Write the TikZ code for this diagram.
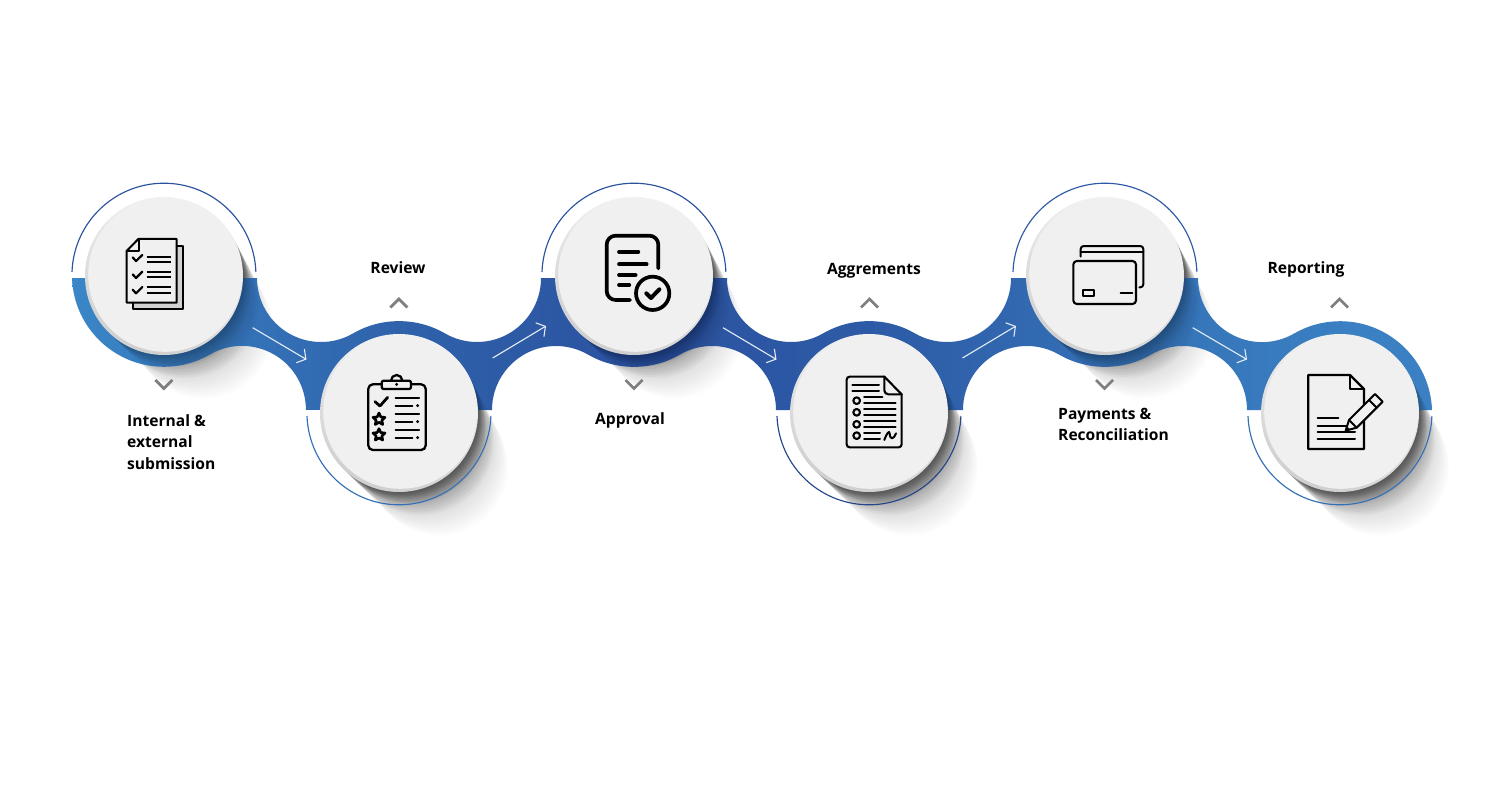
\documentclass[tikz,border=0pt]{standalone}
\usepackage{fontspec}
\setmainfont{Open Sans}
\usetikzlibrary{arrows.meta,calc}
\definecolor{ribA}{HTML}{3A86C6}
\definecolor{ribB}{HTML}{2F62AB}
\definecolor{ribC}{HTML}{2B52A0}
\definecolor{ribD}{HTML}{2D5AA6}
\definecolor{ribE}{HTML}{3470B5}
\definecolor{ribF}{HTML}{3A80C2}
\definecolor{discface}{HTML}{F0F0F0}
\definecolor{rimtop}{HTML}{F4F4F4}
\definecolor{rimlow}{HTML}{CFCFCF}
\definecolor{chevgrey}{HTML}{7F7F7F}
\definecolor{arrowwhite}{HTML}{E6ECF6}
\pgfdeclarehorizontalshading{ribbonshade}{100bp}{color(0bp)=(ribA); color(25bp)=(ribA); color(37bp)=(ribB); color(45.7bp)=(ribC); color(54.3bp)=(ribD); color(63bp)=(ribE); color(72bp)=(ribF); color(100bp)=(ribF)}
\tikzset{
  ringline/.style={line width=1.15pt},
  disc/.style={circle,inner sep=0pt,minimum size=158pt,top color=rimtop,bottom color=rimlow,shading angle=-20},
  face/.style={circle,inner sep=0pt,minimum size=154pt,fill=discface},
  flowarrow/.style={draw=arrowwhite,line width=1.1pt,-{Straight Barb[length=6.5pt,width=16pt,line width=1.1pt]}},
  chev/.style={draw=chevgrey,line width=2.8pt},
  steplabel/.style={inner sep=0pt,font=\fontsize{15.6}{21.5}\selectfont\bfseries,text=black},
  ink/.style={draw=black,line width=#1,line cap=round,line join=round},
  ink/.default=2pt
}
% soft, fine-grained shadow for the white ground (drawn under the ribbon)
\newcommand{\groundshadow}[2]{%
  \foreach \k in {1,...,16}{
    \draw[black,opacity=0.016,line cap=round,line width={(2*(79-0.17*\k))*1pt}]
      (#1,#2) -- ({#1+\k*0.66},{#2+\k*0.88});
  }%
  \foreach \k in {17,...,32}{
    \draw[black,opacity=0.008,line cap=round,line width={(2*(79-0.17*\k))*1pt}]
      (#1,#2) -- ({#1+\k*0.66},{#2+\k*0.88});
  }%
  \foreach \k in {33,...,62}{
    \draw[black,opacity=0.004,line cap=round,line width={(2*(79-0.17*\k))*1pt}]
      (#1,#2) -- ({#1+\k*0.66},{#2+\k*0.88});
  }%
}
% coarser near shadow drawn over ribbon and ground
\newcommand{\nearshadow}[2]{%
  \foreach \k in {2,4,...,16}{
    \draw[black,opacity=0.032,line cap=round,line width={(2*(79-0.17*\k))*1pt}]
      (#1,#2) -- ({#1+\k*0.66},{#2+\k*0.88});
  }%
  \foreach \k in {20,24,28,32}{
    \draw[black,opacity=0.02,line cap=round,line width={(2*(79-0.17*\k))*1pt}]
      (#1,#2) -- ({#1+\k*0.66},{#2+\k*0.88});
  }%
}
\newcommand{\iconstar}[2]{%
  \draw[ink=2.6pt,fill=discface] plot[samples at={0,...,9}]
    ({#1+(mod(\x,2)==0?19:9)*cos(-90+36*\x)},{#2+(mod(\x,2)==0?19:9)*sin(-90+36*\x)}) -- cycle;
}
\begin{document}
\begin{tikzpicture}[x=1pt,y=-1pt]
\useasboundingbox (0,0) rectangle (1500,800);
\fill[white] (0,0) rectangle (1500,800);

% shadows on the white ground
\groundshadow{164}{276}
\groundshadow{399}{413}
\groundshadow{634}{276}
\groundshadow{869}{413}
\groundshadow{1105}{276}
\groundshadow{1340}{413}

% ribbon
\path[shading=ribbonshade,shading angle=0] (72,278)
  arc[start angle=178,end angle=60,radius=92]
  arc[start angle=240,end angle=360,radius=64]
  -- (492,410)
  arc[start angle=180,end angle=300,radius=64]
  arc[start angle=120,end angle=60,radius=92]
  arc[start angle=240,end angle=360,radius=64]
  -- (963,410)
  arc[start angle=180,end angle=300,radius=64]
  arc[start angle=120,end angle=60,radius=92]
  arc[start angle=240,end angle=360,radius=64]
  -- (1432,410)
  arc[start angle=358,end angle=240,radius=92]
  arc[start angle=60,end angle=180,radius=64]
  -- (1011,278)
  arc[start angle=0,end angle=120,radius=64]
  arc[start angle=300,end angle=240,radius=92]
  arc[start angle=60,end angle=180,radius=64]
  -- (541,278)
  arc[start angle=0,end angle=120,radius=64]
  arc[start angle=300,end angle=240,radius=92]
  arc[start angle=60,end angle=180,radius=64]
  -- cycle;

% shadows over ribbon and ground
\nearshadow{164}{276}
\nearshadow{399}{413}
\nearshadow{634}{276}
\nearshadow{869}{413}
\nearshadow{1105}{276}
\nearshadow{1340}{413}

% rings
\draw[ringline,draw=ribC] (72,272) arc[start angle=182,end angle=358,radius=92];
\draw[ringline,draw=ribE] (307,416) arc[start angle=178,end angle=2,radius=92];
\draw[ringline,draw=ribC] (542,272) arc[start angle=182,end angle=358,radius=92];
\draw[ringline,draw=ribC!85!black] (777,416) arc[start angle=178,end angle=2,radius=92];
\draw[ringline,draw=ribD] (1013,272) arc[start angle=182,end angle=358,radius=92];
\draw[ringline,draw=ribE] (1248,416) arc[start angle=178,end angle=2,radius=92];

% discs
\node[disc] (d1) at (164,276) {};
\node[face] (f1) at (165.2,274.8) {};
\node[disc] (d2) at (399,413) {};
\node[face] (f2) at (400.2,411.8) {};
\node[disc] (d3) at (634,276) {};
\node[face] (f3) at (635.2,274.8) {};
\node[disc] (d4) at (869,413) {};
\node[face] (f4) at (870.2,411.8) {};
\node[disc] (d5) at (1105,276) {};
\node[face] (f5) at (1106.2,274.8) {};
\node[disc] (d6) at (1340,413) {};
\node[face] (f6) at (1341.2,411.8) {};

% arrows
\coordinate (a1s) at (252.7,327.7); \coordinate (a1e) at (306.5,359.5);
\coordinate (a2s) at (492.7,358);   \coordinate (a2e) at (546,326);
\coordinate (a3s) at (723,327.7);   \coordinate (a3e) at (776.5,359.5);
\coordinate (a4s) at (962.5,358);   \coordinate (a4e) at (1016,326);
\coordinate (a5s) at (1192.7,327.7);\coordinate (a5e) at (1247,359.5);
\draw[flowarrow] (a1s) -- (a1e);
\draw[flowarrow] (a2s) -- (a2e);
\draw[flowarrow] (a3s) -- (a3e);
\draw[flowarrow] (a4s) -- (a4e);
\draw[flowarrow] (a5s) -- (a5e);

% chevrons
\draw[chev] (155.3,380) -- (163.8,388.5) -- (172.3,380);
\draw[chev] (390.3,307.5) -- (398.8,299) -- (407.3,307.5);
\draw[chev] (625.5,380) -- (634,388.5) -- (642.5,380);
\draw[chev] (861,307.5) -- (869.5,299) -- (878,307.5);
\draw[chev] (1096,380) -- (1104.5,388.5) -- (1113,380);
\draw[chev] (1331,307.5) -- (1339.5,299) -- (1348,307.5);

% labels
\node[steplabel,anchor=base] (l2) at (398,273.5) {Review};
\node[steplabel,anchor=base] (l4) at (874,274.5) {Aggrements};
\node[steplabel,anchor=base] (l6) at (1306,273.5) {Reporting};
\node[steplabel,anchor=base] (l3) at (630,424.5) {Approval};
\node[steplabel,anchor=base west] (l1a) at (127,426) {Internal \&};
\node[steplabel,anchor=base west] (l1b) at (127,447.5) {external};
\node[steplabel,anchor=base west] (l1c) at (127,469) {submission};
\node[steplabel,anchor=base west] (l5a) at (1058,419.5) {Payments \&};
\node[steplabel,anchor=base west] (l5b) at (1058,440.5) {Reconciliation};

% icon 1
\begin{scope}[shift={(110,225)},scale=0.3333]
  \fill[black!18] (200,62) -- (219,62) -- (219,252) -- (70,252) -- (70,233) -- (200,233) -- cycle;
  \draw[ink=2pt] (200,62) -- (219,62) -- (219,252) -- (70,252) -- (70,233);
  \draw[ink=2pt] (50,78) -- (85,42) -- (200,42) -- (200,233) -- (50,233) -- cycle;
  \draw[ink=2pt] (50,78) -- (87,78) -- (87,42);
  \draw[ink=2.2pt] (68,97) -- (78,108) -- (97,90);
  \draw[ink=2.2pt] (68,148) -- (78,159) -- (97,140);
  \draw[ink=2.2pt] (68,194) -- (78,205) -- (97,186);
  \foreach \y in {95,112,140,156,187,203}{\draw[ink=2pt,line cap=butt] (110,\y) -- (183,\y);}
\end{scope}

% icon 2
\begin{scope}[shift={(355,365)},scale=0.3333]
  \draw[ink=2.3pt,rounded corners=4.5pt] (80,58) -- (40,58) -- (40,255) -- (212,255) -- (212,58) -- (168,58);
  \draw[ink=2.3pt,rounded corners=2pt] (80,47) rectangle (168,72);
  \draw[ink=2.3pt] (108,47) arc[start angle=180,end angle=360,radius=17];
  \fill (125,58) circle[radius=5];
  \draw[ink=2.8pt] (60,110) -- (75,123) -- (98,97);
  \foreach \y in {100,148,194}{\draw[ink=2.2pt] (122,\y) -- (192,\y);}
  \foreach \y in {122,170,218}{\draw[ink=2.2pt] (122,\y) -- (172,\y); \fill (188,\y) circle[radius=5];}
  \iconstar{72}{163}
  \iconstar{72}{210}
\end{scope}

% icon 3
\begin{scope}[shift={(595,225)},scale=0.3333]
  \draw[ink=3.7pt,rounded corners=9pt] (190,130) -- (190,32) -- (35,32) -- (35,225) -- (105,225);
  \draw[ink=3.7pt] (72,80) -- (130,80);
  \draw[ink=3.7pt] (72,118) -- (155,118);
  \draw[ink=3.7pt] (72,150) -- (122,150);
  \draw[ink=3.7pt] (72,180) -- (103,180);
  \draw[ink=3.7pt] (173,205) circle[radius=50];
  \draw[ink=4pt] (154,205) -- (168,219) -- (193,193);
\end{scope}

% icon 4
\begin{scope}[shift={(835,365)},scale=0.3333]
  \draw[ink=2.1pt,rounded corners=3pt] (148,35) -- (35,35) -- (35,247) -- (200,247) -- (200,88);
  \draw[ink=2.1pt] (200,88) -- (148,35);
  \draw[ink=2.1pt,rounded corners=4pt] (148,35) -- (148,88) -- (200,88);
  \foreach \y in {60,78}{\draw[ink=2pt] (52,\y) -- (132,\y);}
  \foreach \y in {107,142,178,212}{\draw[ink=2.1pt] (65,\y) circle[radius=10];}
  \draw[ink=2pt] (87,97) -- (142,97);
  \foreach \y in {115,132,150,168,186}{\draw[ink=2pt] (87,\y) -- (182,\y);}
  \foreach \y in {205,223}{\draw[ink=2pt] (87,\y) -- (135,\y);}
  \draw[ink=2pt] (148,225) .. controls (155,205) and (163,195) .. (164,205) .. controls (165,225) and (175,225) .. (183,205);
\end{scope}

% icon 5
\begin{scope}[shift={(1060,235)},scale=0.3333]
  \draw[ink=2pt,rounded corners=3pt] (62,65) -- (62,33) -- (250,33) -- (250,157) -- (238,157);
  \draw[ink=2pt] (62,52) -- (250,52);
  \draw[ink=2.1pt,rounded corners=3.5pt] (40,78) rectangle (228,207);
  \draw[ink=2pt] (70,165) rectangle (103,183);
  \draw[ink=2.1pt] (182,174) -- (217,174);
\end{scope}

% icon 6
\begin{scope}[shift={(1295,365)},scale=0.3333]
  \draw[ink=2.3pt,line cap=butt] (207,130) -- (207,72) -- (165,30) -- (40,30) -- (40,252) -- (207,252) -- (207,165);
  \draw[ink=2pt] (165,30) -- (165,72) -- (207,72);
  \draw[ink=2pt] (68,160) -- (130,160);
  \draw[ink=2pt] (68,182) -- (155,182);
  \foreach \y in {202,222}{\draw[ink=2pt] (68,\y) -- (180,\y);}
  \draw[ink=2pt,fill=discface] (152,197) -- (162,165) -- (240,87) -- (263,110) -- (185,188) -- cycle;
  \draw[ink=2pt] (162,165) -- (185,188);
  \draw[ink=2pt] (222,105) -- (245,128);
  \fill (152,197) -- (156,184) -- (165,193) -- cycle;
\end{scope}
\end{tikzpicture}
\end{document}
